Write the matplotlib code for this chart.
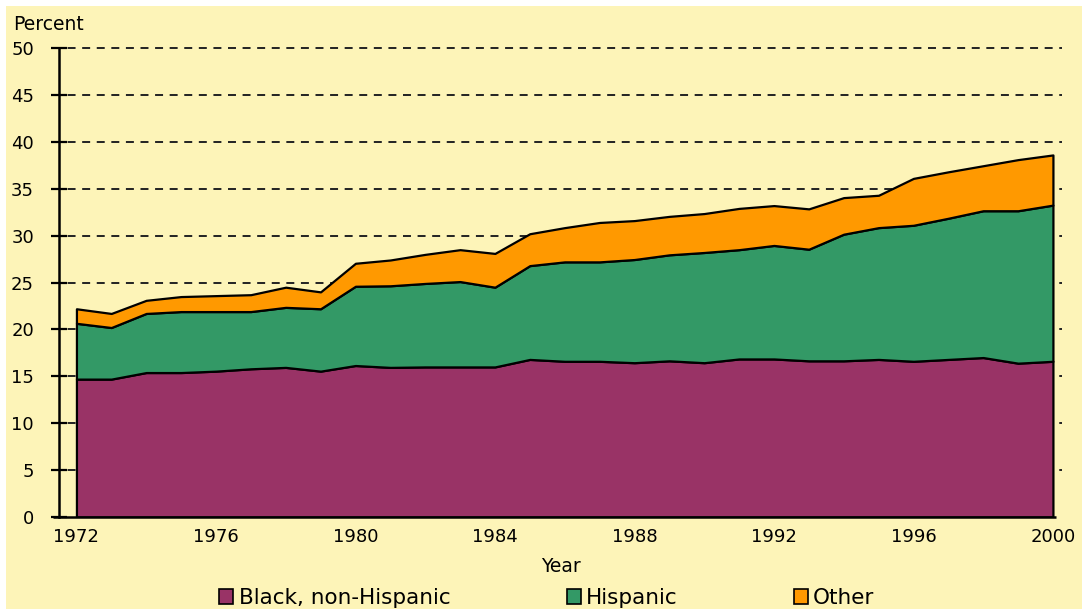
import matplotlib
matplotlib.use("Agg")
import matplotlib.pyplot as plt
import matplotlib.transforms as mtransforms
from matplotlib.patches import Patch, Rectangle

years = list(range(1972, 2001))
black = [14.7, 14.7, 15.4, 15.4, 15.55, 15.8, 15.95, 15.55, 16.15, 15.95,
         16.0, 16.0, 16.0, 16.8, 16.6, 16.6, 16.45, 16.65, 16.45, 16.85,
         16.85, 16.65, 16.65, 16.8, 16.6, 16.8, 17.0, 16.4, 16.6]
hispanic = [5.95, 5.5, 6.3, 6.5, 6.35, 6.1, 6.4, 6.65, 8.45, 8.7,
            8.9, 9.1, 8.5, 10.0, 10.6, 10.6, 11.0, 11.3, 11.75, 11.65,
            12.1, 11.9, 13.5, 14.05, 14.5, 15.05, 15.65, 16.25, 16.65]
other = [1.55, 1.5, 1.4, 1.6, 1.7, 1.8, 2.15, 1.8, 2.45, 2.75,
         3.1, 3.4, 3.6, 3.4, 3.65, 4.2, 4.15, 4.1, 4.15, 4.4,
         4.25, 4.3, 3.9, 3.45, 5.0, 4.95, 4.8, 5.45, 5.35]
series_names = ["Black, non-Hispanic", "Hispanic", "Other"]
colors = ["#993366", "#339966", "#FF9900"]
xticks = [1972, 1976, 1980, 1984, 1988, 1992, 1996, 2000]
yticks = [0, 5, 10, 15, 20, 25, 30, 35, 40, 45, 50]

plt.rcParams['font.family'] = ['DejaVu Sans']
W, H = 1082, 609
fig = plt.figure(figsize=(W / 100, H / 100), dpi=100, facecolor="white")
bg = "#FDF4B8"
bgax = fig.add_axes([6 / W, 0, 1 - 6 / W, 1 - 6 / H], zorder=0)
bgax.set_facecolor(bg)
bgax.set_axis_off()
bgax.add_patch(Rectangle((0, 0), 1, 1, transform=bgax.transAxes,
                         facecolor=bg, edgecolor="none"))

AXW = 1003
ax = fig.add_axes([59 / W, 92 / H, AXW / W, 469 / H], zorder=2)
ax.set_facecolor("none")
ax.stackplot(years, black, hispanic, other, colors=colors,
             edgecolor="black", linewidth=1.6, zorder=3)

ax.set_xlim(1971.5, 2000.26)
ax.set_ylim(0, 50)
ax.set_xticks(xticks)
ax.set_xticklabels([str(t) for t in xticks])
ax.set_yticks(yticks)
ax.tick_params(axis="x", length=0, pad=8, labelsize=13)
ax.tick_params(axis="y", direction="inout", length=12, width=1.6,
               pad=12, labelsize=13)

# dashed gridlines that start just left of the axis, as in the original
trans = mtransforms.blended_transform_factory(ax.transAxes, ax.transData)
x0 = -6 / AXW
for yv in yticks[1:]:
    ax.plot([x0, 1], [yv, yv], transform=trans, color="#222222",
            linewidth=1.4, linestyle=(0, (4.1, 3.4)), zorder=1,
            clip_on=False)
ax.plot([x0, 1 - 6 / AXW], [0, 0], transform=trans, color="black",
        linewidth=1.8, zorder=4, clip_on=False, solid_capstyle="butt")

for s in ["top", "right", "bottom"]:
    ax.spines[s].set_visible(False)
ax.spines["left"].set_linewidth(1.8)
ax.spines["left"].set_zorder(4)

ax.set_xlabel("Year", fontsize=13.5, labelpad=8)
fig.text(13 / W, 1 - 30 / H, "Percent", fontsize=13.5, va="baseline", ha="left")

handles = [Patch(facecolor=c, edgecolor="black", linewidth=1.2) for c in colors]
fig.legend(handles, series_names, loc="center", ncol=3,
           bbox_to_anchor=(547 / W, 1 - 598 / H), frameon=False,
           fontsize=15.5, handlelength=0.65, handleheight=0.65,
           handletextpad=0.25, columnspacing=5.4)

fig.savefig("out.png", dpi=100, facecolor="white")
